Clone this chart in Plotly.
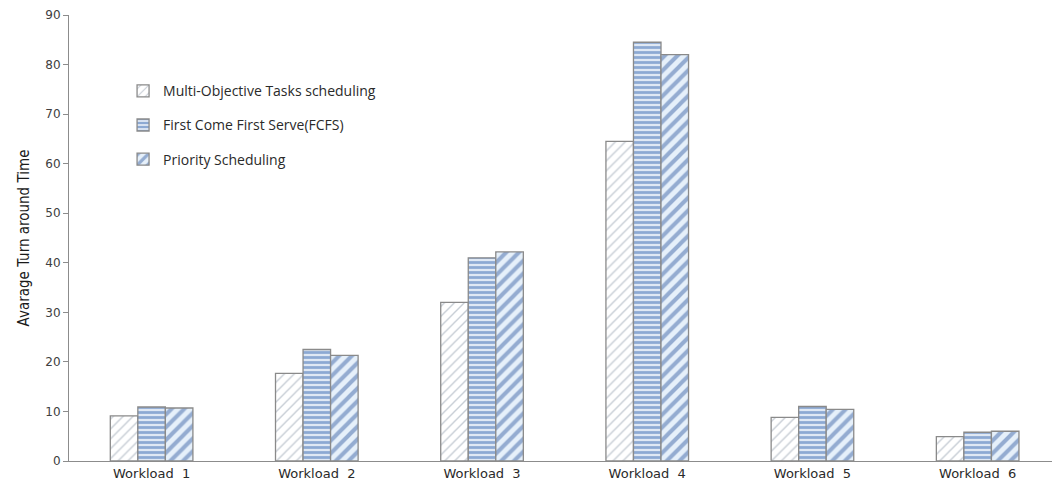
import plotly.graph_objects as go

categories = ["Workload  1", "Workload  2", "Workload  3", "Workload  4", "Workload  5", "Workload  6"]
series_names = ["Multi-Objective Tasks scheduling", "First Come First Serve(FCFS)", "Priority Scheduling"]
mo_values = [9.1, 17.7, 32.0, 64.5, 8.8, 4.9]
fcfs_values = [10.9, 22.5, 41.0, 84.5, 11.0, 5.8]
priority_values = [10.7, 21.3, 42.2, 82.0, 10.4, 6.0]

styles = [
    dict(shape="/", fgcolor="#8f9bab", bgcolor="#ffffff", size=7, solidity=0.2),
    dict(shape="-", fgcolor="#3a6ab2", bgcolor="#dfe8f4", size=5, solidity=0.55),
    dict(shape="/", fgcolor="#4268a8", bgcolor="#e6f0fa", size=9, solidity=0.45),
]

fig = go.Figure()
for i, (name, vals) in enumerate(zip(series_names, [mo_values, fcfs_values, priority_values])):
    fig.add_trace(go.Bar(
        x=categories, y=vals, name=name, legendgroup=f"g{i}",
        marker=dict(color=styles[i]["bgcolor"], pattern=styles[i],
                    line=dict(color="#8a8a8a", width=1.3)),
    ))

fig.update_layout(
    width=1052, height=486,
    margin=dict(l=69, r=0, t=15, b=25),
    paper_bgcolor="white", plot_bgcolor="white",
    barmode="group", bargap=0.5, bargroupgap=0,
    font=dict(family="DejaVu Sans", size=12, color="#404040"),
    showlegend=True,
    legend=dict(x=0.055, y=0.865, xanchor="left", yanchor="top",
                bgcolor="rgba(0,0,0,0)", tracegroupgap=13, itemwidth=30,
                font=dict(family="Open Sans", size=14, color="#2a2a2a")),
    xaxis=dict(range=[-0.5, 5.45], showline=True, linecolor="#8c8c8c", linewidth=1,
               ticks="", showgrid=False, tickfont=dict(size=13, color="#2a2a2a")),
    yaxis=dict(range=[0, 90], dtick=10, showline=True, linecolor="#8c8c8c", linewidth=1,
               ticks="outside", ticklen=5, tickcolor="#8c8c8c", showgrid=False,
               tickfont=dict(size=12, color="#404040"),
               title=dict(text="Avarage Turn around Time", standoff=12,
                          font=dict(family="DejaVu Sans Condensed, Liberation Sans", size=15, color="#1a1a1a"))),
)

fig.write_html("out.html")
